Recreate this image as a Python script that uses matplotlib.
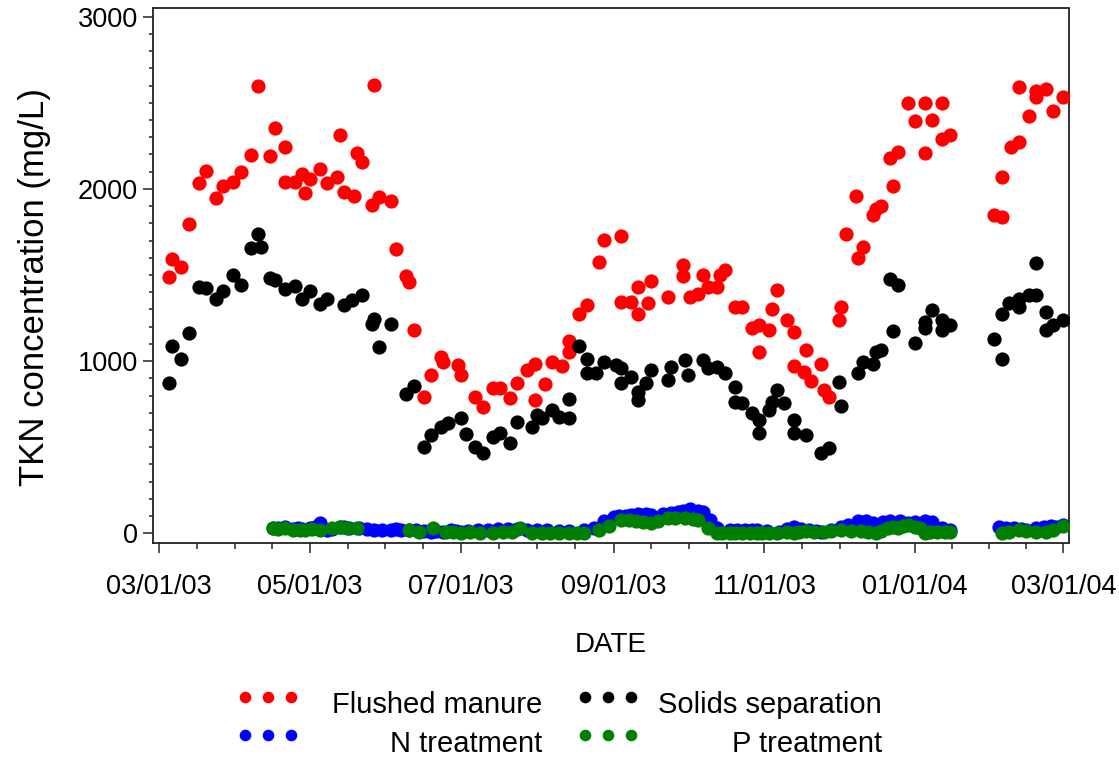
import matplotlib
matplotlib.use("Agg")
import matplotlib.pyplot as plt
import matplotlib.dates as mdates
import numpy as np
import pandas as pd

START = "2003-03-01"

# sampling day (days since 03/01/03) and TKN (mg/L) for each stage
FM_DAY = [4, 5, 9, 12, 16, 19, 23, 26, 30, 33,
          37, 40, 45, 47, 51, 51, 55, 58, 59, 61,
          65, 68, 72, 73, 75, 79, 80, 82, 86, 87,
          89, 94, 96, 100, 101, 103, 107, 110, 114, 115,
          121, 122, 128, 131, 135, 138, 142, 145, 149, 152,
          152, 156, 159, 163, 166, 166, 170, 173, 178, 180,
          187, 187, 191, 194, 194, 198, 199, 206, 212, 212,
          215, 218, 220, 222, 226, 229, 227, 233, 236, 240,
          243, 247, 243, 248, 250, 254, 257, 262, 268, 257,
          261, 264, 269, 271, 276, 275, 278, 283, 285, 282,
          289, 290, 292, 297, 296, 299, 303, 306, 310, 313,
          310, 317, 317, 320, 338, 341, 341, 345, 348, 352,
          348, 355, 355, 359, 362, 366]
FM_VAL = [1488, 1590, 1544, 1793, 2033, 2104, 1948, 2017, 2037, 2097,
          2199, 2599, 2190, 2352, 2242, 2042, 2039, 2087, 1977, 2058,
          2116, 2033, 2071, 2313, 1984, 1958, 2209, 2158, 1907, 2603,
          1955, 1932, 1652, 1494, 1459, 1183, 792, 922, 1024, 995,
          976, 918, 790, 734, 841, 841, 788, 874, 947, 985,
          773, 866, 995, 972, 1053, 1115, 1275, 1323, 1575, 1704,
          1729, 1343, 1343, 1275, 1430, 1339, 1463, 1372, 1555, 1494,
          1372, 1391, 1497, 1430, 1430, 1526, 1497, 1314, 1314, 1192,
          1208, 1179, 1053, 1304, 1414, 1236, 1169, 1063, 985, 972,
          937, 883, 831, 792, 1314, 1236, 1735, 1598, 1662, 1961,
          1849, 1883, 1903, 2019, 2180, 2216, 2497, 2392, 2497, 2400,
          2207, 2497, 2290, 2313, 1851, 1836, 2068, 2245, 2271, 2421,
          2590, 2532, 2570, 2580, 2454, 2532]

SS_DAY = [4, 5, 9, 12, 16, 19, 23, 26, 30, 33,
          37, 40, 41, 45, 47, 51, 55, 58, 61, 65,
          68, 75, 78, 82, 86, 87, 89, 94, 103, 100,
          107, 110, 114, 117, 122, 124, 128, 131, 135, 138,
          142, 145, 151, 153, 155, 159, 162, 166, 166, 170,
          173, 173, 177, 180, 185, 187, 187, 191, 194, 194,
          197, 199, 206, 207, 213, 214, 220, 222, 226, 229,
          233, 233, 236, 240, 243, 243, 247, 248, 250, 253,
          257, 257, 262, 268, 271, 276, 275, 283, 285, 289,
          290, 292, 297, 306, 296, 299, 310, 310, 313, 317,
          317, 320, 338, 341, 341, 344, 348, 348, 352, 355,
          355, 359, 359, 362, 366]
SS_VAL = [875, 1086, 1014, 1163, 1430, 1426, 1362, 1407, 1501, 1439,
          1658, 1735, 1662, 1482, 1468, 1420, 1436, 1362, 1407, 1333,
          1362, 1323, 1352, 1381, 1217, 1246, 1082, 1217, 856, 806,
          503, 570, 619, 638, 667, 574, 503, 464, 561, 580,
          522, 648, 619, 686, 667, 715, 677, 667, 777, 1088,
          1014, 928, 933, 995, 976, 957, 874, 908, 821, 773,
          870, 947, 889, 966, 1005, 918, 1005, 957, 966, 928,
          850, 763, 754, 696, 657, 584, 715, 763, 831, 759,
          657, 584, 570, 468, 493, 740, 879, 928, 995, 985,
          1053, 1067, 1173, 1106, 1478, 1443, 1227, 1192, 1294, 1236,
          1179, 1208, 1130, 1014, 1275, 1339, 1314, 1362, 1381, 1381,
          1571, 1285, 1179, 1208, 1236]

NT_DAY = [46, 48, 51, 54, 56, 58, 61, 63, 65, 68,
          70, 73, 75, 77, 81, 84, 87, 90, 94, 96,
          98, 101, 104, 107, 110, 112, 115, 118, 120, 122,
          125, 129, 133, 137, 141, 145, 149, 153, 157, 162,
          166, 172, 176, 180, 184, 186, 189, 191, 194, 197,
          199, 204, 207, 210, 212, 215, 218, 220, 223, 226,
          231, 234, 237, 240, 242, 246, 251, 254, 257, 260,
          263, 266, 268, 272, 276, 279, 283, 286, 289, 293,
          296, 300, 303, 306, 310, 313, 317, 320, 340, 343,
          346, 349, 351, 355, 358, 361, 363, 366]
NT_VAL = [29, 33, 38, 25, 29, 23, 29, 35, 61, 19,
          25, 38, 35, 29, 32, 23, 19, 19, 19, 23,
          19, 19, 19, 14, 9, 12, 9, 19, 14, 9,
          14, 19, 19, 23, 23, 25, 19, 19, 17, 14,
          14, 19, 29, 73, 96, 100, 100, 106, 112, 110,
          106, 112, 120, 125, 130, 139, 130, 125, 77, 31,
          19, 19, 19, 17, 19, 14, 9, 23, 38, 23,
          19, 14, 9, 19, 35, 48, 73, 69, 61, 65,
          73, 70, 61, 66, 73, 66, 29, 19, 38, 33,
          29, 25, 19, 29, 38, 40, 38, 48]

PT_DAY = [46, 48, 51, 54, 57, 59, 62, 65, 70, 73,
          76, 80, 101, 105, 111, 116, 119, 122, 126, 130,
          135, 139, 143, 146, 151, 155, 158, 162, 166, 169,
          172, 178, 182, 187, 190, 193, 196, 199, 202, 206,
          209, 213, 216, 218, 222, 226, 228, 231, 233, 236,
          239, 242, 244, 247, 250, 254, 257, 259, 262, 265,
          269, 272, 276, 280, 284, 287, 290, 292, 295, 297,
          299, 301, 303, 306, 308, 310, 312, 315, 318, 320,
          341, 344, 348, 351, 355, 359, 362, 366]
PT_VAL = [29, 25, 29, 19, 22, 19, 24, 19, 30, 38,
          28, 29, 19, 10, 32, 6, 8, 3, 5, 3,
          0, 5, 9, 29, 0, 2, 0, 2, 0, 2,
          3, 19, 45, 77, 75, 71, 66, 58, 72, 90,
          88, 87, 82, 77, 29, 0, 0, 0, 0, 0,
          0, 0, 0, 3, 3, 5, 0, 8, 13, 10,
          9, 14, 19, 15, 13, 10, 3, 15, 29, 35,
          29, 40, 48, 38, 29, 0, 10, 9, 9, 9,
          3, 10, 19, 14, 9, 9, 20, 42]

SERIES = [
    ("Flushed manure", FM_DAY, FM_VAL, "#ff0000"),
    ("Solids separation", SS_DAY, SS_VAL, "#000000"),
    ("N treatment", NT_DAY, NT_VAL, "#0000ff"),
    ("P treatment", PT_DAY, PT_VAL, "#008000"),
]

MAJOR_DATES = ["2003-03-01", "2003-05-01", "2003-07-01", "2003-09-01",
               "2003-11-01", "2004-01-01", "2004-03-01"]

FONT = ["Liberation Sans", "DejaVu Sans"]
plt.rcParams["font.family"] = FONT

W, H = 1119, 761


def to_dates(days):
    return pd.Timestamp(START) + pd.to_timedelta(np.asarray(days), unit="D")


fig = plt.figure(figsize=(W / 100, H / 100), dpi=100)
ax = fig.add_axes([153.3 / W, 1 - 543.3 / H, 915.2 / W, 535.3 / H])

for name, d, v, c in SERIES:
    ax.scatter(to_dates(d), v, s=105, color=c, linewidths=0, zorder=3)

start = mdates.date2num(pd.Timestamp(START))
ax.set_xlim(start - 2.4, start + 368.1)
ax.set_ylim(-58, 3050)

majors = mdates.date2num(pd.to_datetime(MAJOR_DATES))
minors = []
for a, b in zip(majors[:-1], majors[1:]):
    minors += list(np.linspace(a, b, 5)[1:-1])
ax.xaxis.set_major_locator(matplotlib.ticker.FixedLocator(majors))
ax.xaxis.set_minor_locator(matplotlib.ticker.FixedLocator(minors))
ax.xaxis.set_major_formatter(mdates.DateFormatter("%m/%d/%y"))
ax.yaxis.set_major_locator(matplotlib.ticker.MultipleLocator(1000))
ax.yaxis.set_minor_locator(matplotlib.ticker.MultipleLocator(100))

for sp in ax.spines.values():
    sp.set_linewidth(1.3)
    sp.set_color("#222222")
ax.tick_params(axis="x", which="major", length=7, width=1.1, pad=15,
               labelsize=19.5, color="#222222")
ax.tick_params(axis="x", which="minor", length=4, width=1.1, color="#222222")
ax.tick_params(axis="y", which="major", length=7, width=1.1, pad=4,
               labelsize=19.5, color="#222222")
ax.tick_params(axis="y", which="minor", length=3, width=1.1, color="#222222")

fig.text(35 / W, 1 - 287 / H, "TKN concentration (mg/L)", rotation=90,
         ha="center", va="center", fontsize=25)
fig.text(611 / W, 1 - 645 / H, "DATE", ha="center", va="center", fontsize=20)

# legend drawn by hand: three dots per entry, labels right-aligned
leg = fig.add_axes([0, 0, 1, 1])
leg.set_xlim(0, W)
leg.set_ylim(H, 0)
leg.axis("off")
cols = [(245, 542.7), (585, 881.7)]
rows = [(697, 713), (735, 752)]
for i, (name, d, v, c) in enumerate(SERIES):
    (dx, tx), (dy, ty) = cols[i % 2], rows[i // 2]
    leg.scatter([dx, dx + 23, dx + 46], [dy] * 3, s=70, color=c, linewidths=0)
    leg.text(tx, ty, name, ha="right", va="baseline", fontsize=21)

fig.savefig("out.png", dpi=100)
